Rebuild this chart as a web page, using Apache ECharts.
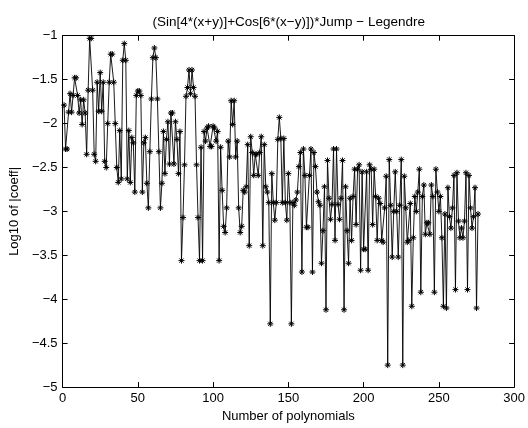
<!DOCTYPE html>
<html>
<head>
<meta charset="utf-8">
<script src="https://cdn.jsdelivr.net/npm/echarts@6/dist/echarts.min.js"></script>
<style>
html,body{margin:0;padding:0;background:#fff;}
#c{width:528px;height:428px;}
</style>
</head>
<body>
<div id="c"></div>
<script>
const titleText = '(Sin[4*(x+y)]+Cos[6*(x\u2212y)])*Jump \u2212 Legendre';
const xLabel = 'Number of polynomials';
const yLabel = 'Log10 of |coeff|';
const xTicks = [0, 50, 100, 150, 200, 250, 300];
const yTicks = [-5, -4.5, -4, -3.5, -3, -2.5, -2, -1.5, -1];

// log10 |coefficient| for polynomial number 1..276
const logCoeff = [
  -1.79,
  -2.29, -2.29,
  -1.87, -1.66, -1.87,
  -1.68, -1.48, -1.48, -1.68,
  -1.88, -1.73, -2.01, -1.73, -1.88,
  -2.35, -1.62, -1.03, -1.03, -1.62, -2.35,
  -2.43, -1.53, -1.86, -1.42, -1.86, -1.53, -2.43,
  -2.50, -2.00, -1.53, -1.21, -1.21, -1.53, -2.00, -2.50,
  -2.67, -2.08, -2.63, -1.28, -1.09, -1.28, -2.63, -2.08, -2.67,
  -2.16, -2.22, -2.78, -1.68, -1.63, -1.63, -1.68, -2.78, -2.22, -2.16,
  -2.68, -2.96, -2.32, -1.72, -1.25, -1.14, -1.25, -1.72, -2.32, -2.96, -2.68,
  -2.09, -2.57, -2.18, -1.98, -2.46, -1.88, -1.88, -2.46, -1.98, -2.18, -2.57, -2.09,
  -3.56, -3.07, -2.47, -1.69, -1.59, -1.39, -1.66, -1.39, -1.59, -1.69, -2.47, -3.07, -3.56,
  -2.27, -3.56, -2.09, -2.20, -2.05, -2.03, -2.26, -2.26, -2.03, -2.05, -2.20, -2.09, -3.56, -2.27,
  -2.76, -3.17, -3.24, -2.96, -2.20, -2.38, -1.74, -2.01, -1.74, -2.38, -2.20, -2.96, -3.24, -3.17, -2.76,
  -2.78, -2.72, -2.24, -3.39, -2.15, -2.33, -2.59, -2.35, -2.35, -2.59, -2.33, -2.15, -3.39, -2.24, -2.72, -2.78,
  -2.90, -4.28, -2.57, -2.90, -3.10, -2.90, -2.18, -1.93, -2.17, -2.90, -2.17, -2.90, -3.10, -2.57, -2.90, -4.28, -2.90,
  -2.93, -2.87, -2.78, -2.49, -2.33, -3.69, -2.29, -2.59, -3.18, -3.18, -2.59, -2.29, -3.69, -2.33, -2.49, -2.78, -2.89, -2.93,
  -3.59, -3.22, -2.72, -4.12, -2.42, -2.85, -3.09, -2.92, -2.29, -3.33, -2.29, -2.92, -3.09, -2.85, -2.42, -4.12, -2.72, -3.22, -3.59,
  -2.85, -3.33, -2.83, -2.52, -3.15, -2.52, -2.47, -3.67, -2.55, -3.43, -3.43, -2.55, -3.67, -2.47, -2.52, -3.15, -2.52, -2.83, -3.33, -2.85,
  -2.91, -3.33, -3.35, -2.96, -2.60, -4.75, -2.41, -2.93, -3.52, -3.00, -2.55, -3.00, -3.52, -2.93, -2.41, -4.75, -2.60, -2.96, -3.35, -3.33, -2.91,
  -4.08, -3.30, -2.83, -3.00, -2.78, -2.52, -3.92, -2.83, -2.70, -3.26, -3.13, -3.13, -3.26, -2.70, -2.83, -3.92, -2.52, -2.78, -3.00, -2.83, -3.30, -4.08,
  -3.03, -4.10, -2.73, -3.06, -3.19, -2.96, -2.59, -3.89, -2.56, -3.11, -3.30, -3.19, -3.30, -3.11, -2.56, -3.89, -2.59, -2.96, -3.19, -3.06, -2.73, -4.10, -3.03
];

const points = logCoeff.map((v, i) => [i + 1, v]);
const font = '"Liberation Sans", Arial, Helvetica, sans-serif';
const minus = v => String(v).replace('-', '\u2212');
const star = 'path://M0,-5L0,5M-5,0L5,0M-3.5,-3.5L3.5,3.5M-3.5,3.5L3.5,-3.5';

const grid = { left: 61.5, right: 12, top: 35.7, bottom: 33.7 };
const chart = echarts.init(document.getElementById('c'), null, { renderer: 'canvas' });

const axisCommon = {
  axisLine: { show: true, onZero: false, lineStyle: { color: '#000', width: 1 } },
  axisTick: { show: true, inside: true, length: 5, lineStyle: { color: '#000', width: 1 } },
  splitLine: { show: false }
};

chart.setOption({
  animation: false,
  backgroundColor: '#fff',
  grid: grid,
  graphic: [{
    type: 'text',
    x: grid.left + (528 - grid.left - grid.right) / 2,
    y: 22,
    style: { text: titleText, align: 'center', verticalAlign: 'middle', font: '13.5px ' + font, fill: '#000' }
  }],
  xAxis: [
    Object.assign({
      type: 'value', min: xTicks[0], max: xTicks[xTicks.length - 1], interval: 50, position: 'bottom',
      axisLabel: { color: '#000', fontFamily: font, fontSize: 13, margin: 5 },
      name: xLabel, nameLocation: 'middle', nameGap: 20,
      nameTextStyle: { color: '#000', fontFamily: font, fontSize: 13 }
    }, axisCommon),
    Object.assign({
      type: 'value', min: xTicks[0], max: xTicks[xTicks.length - 1], interval: 50, position: 'top',
      axisLabel: { show: false }
    }, axisCommon)
  ],
  yAxis: [
    Object.assign({
      type: 'value', min: yTicks[0], max: yTicks[yTicks.length - 1], interval: 0.5, position: 'left',
      axisLabel: { color: '#000', fontFamily: font, fontSize: 13, margin: 5, formatter: minus },
      name: yLabel, nameLocation: 'middle', nameGap: 40, nameRotate: 90,
      nameTextStyle: { color: '#000', fontFamily: font, fontSize: 13 }
    }, axisCommon),
    Object.assign({
      type: 'value', min: yTicks[0], max: yTicks[yTicks.length - 1], interval: 0.5, position: 'right',
      axisLabel: { show: false }
    }, axisCommon)
  ],
  series: [{
    type: 'line',
    data: points,
    xAxisIndex: 0,
    yAxisIndex: 0,
    symbol: star,
    symbolSize: 6,
    showAllSymbol: true,
    lineStyle: { color: '#000', width: 0.9 },
    itemStyle: { color: 'rgba(0,0,0,0)', borderColor: '#000', borderWidth: 1 },
    emphasis: { disabled: true }
  }]
});
</script>
</body>
</html>
